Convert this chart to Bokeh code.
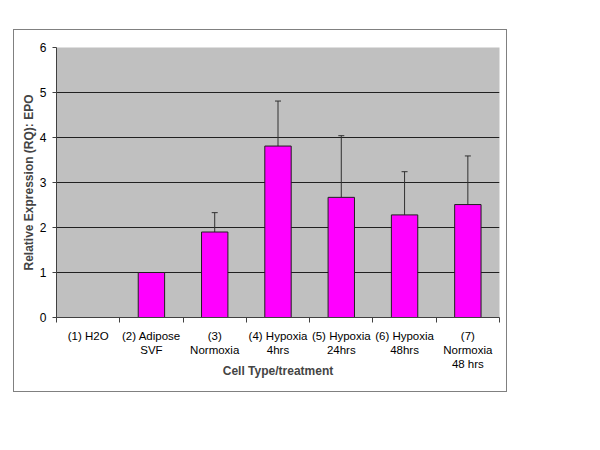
from bokeh.plotting import figure
from bokeh.layouts import column, row
from bokeh.models import Range1d, FixedTicker, ColumnDataSource, Whisker, TeeHead, Spacer
from bokeh.embed import file_html
from bokeh.resources import INLINE

categories = ["(1) H2O", "(2) Adipose\nSVF", "(3)\nNormoxia", "(4) Hypoxia\n4hrs",
              "(5) Hypoxia\n24hrs", "(6) Hypoxia\n48hrs", "(7)\nNormoxia\n48 hrs"]
values = [0.0, 1.0, 1.90, 3.81, 2.67, 2.28, 2.51]
errors = [0.0, 0.0, 0.43, 1.00, 1.37, 0.96, 1.08]
y_ticks = [0, 1, 2, 3, 4, 5, 6]

xpos = [i + 0.5 for i in range(len(categories))]

p = figure(width=492, height=361, output_backend="svg", toolbar_location=None,
           x_range=Range1d(0, len(categories)), y_range=Range1d(0, 6))
p.min_border_left = 42
p.min_border_right = 7
p.min_border_top = 17
p.min_border_bottom = 74
p.background_fill_color = "#C0C0C0"
p.border_fill_color = "white"
p.outline_line_color = None
p.styles = {"outline": "1px solid #808080", "outline-offset": "0px"}

src = ColumnDataSource(dict(x=xpos, top=values))
p.vbar(x="x", top="top", bottom=0, width=0.417, source=src,
       fill_color="#FF00FF", line_color="#202020", line_width=1)

ex = [xpos[i] for i in range(len(values)) if errors[i] > 0]
elow = [values[i] for i in range(len(values)) if errors[i] > 0]
eup = [values[i] + errors[i] for i in range(len(values)) if errors[i] > 0]
esrc = ColumnDataSource(dict(x=ex, lower=elow, upper=eup))
w = Whisker(base="x", lower="lower", upper="upper", source=esrc,
            line_color="#303030", line_width=1,
            upper_head=TeeHead(size=6, line_color="#303030", line_width=1),
            lower_head=None)
p.add_layout(w)

font = "Liberation Sans"
xa = p.xaxis[0]
xa.ticker = FixedTicker(ticks=xpos, minor_ticks=list(range(len(categories) + 1)))
xa.major_label_overrides = {x: c for x, c in zip(xpos, categories)}
xa.major_tick_out = 0
xa.major_tick_in = 0
xa.minor_tick_out = 5
xa.minor_tick_in = 0
xa.minor_tick_line_color = "#404040"
xa.axis_line_color = "#404040"
xa.major_label_text_font = font
xa.major_label_text_font_size = "11.5px"
xa.major_label_text_color = "black"
xa.major_label_standoff = 7
xa.axis_label = "Cell Type/treatment"
xa.axis_label_text_font = font
xa.axis_label_text_font_style = "bold"
xa.axis_label_text_font_size = "12px"
xa.axis_label_standoff = -9

ya = p.yaxis[0]
ya.ticker = FixedTicker(ticks=y_ticks)
ya.minor_tick_line_color = None
ya.major_tick_out = 4
ya.major_tick_in = 0
ya.major_tick_line_color = "#404040"
ya.axis_line_color = "#404040"
ya.major_label_text_font = font
ya.major_label_text_font_size = "12px"
ya.major_label_text_color = "black"
ya.major_label_standoff = 6
ya.axis_label = "Relative Expression (RQ): EPO"
ya.axis_label_text_font = font
ya.axis_label_text_font_style = "bold"
ya.axis_label_text_font_size = "12px"
ya.axis_label_standoff = 1

p.xgrid.grid_line_color = None
p.ygrid.ticker = FixedTicker(ticks=y_ticks)
p.ygrid.grid_line_color = "#202020"
p.ygrid.grid_line_width = 1

layout = column(Spacer(height=30), row(Spacer(width=14), p))
open("out.html", "w").write(file_html(layout, INLINE))
